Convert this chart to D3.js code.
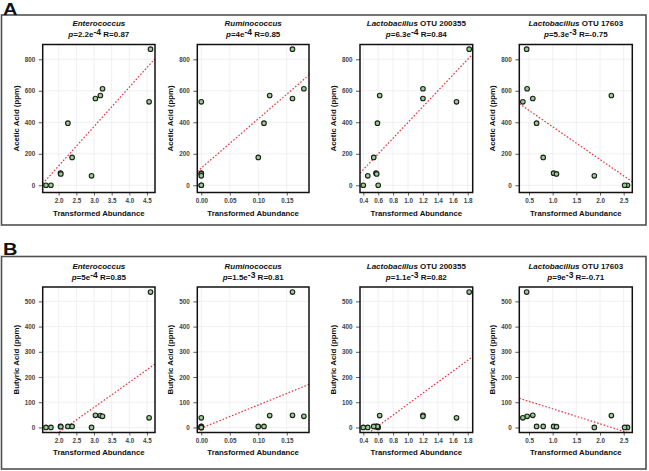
<!DOCTYPE html>
<html><head><meta charset="utf-8">
<script src="https://cdn.jsdelivr.net/npm/d3@7"></script>
<style>
body{margin:0;background:#fff}
svg{display:block;font-family:"Liberation Sans",Arial,Helvetica,sans-serif}
</style>
</head><body>
<svg id="chart" width="649" height="471"></svg>
<script>
// ---- data (12 samples) ----
const enterococcus = [1.64,1.78,2.05,2.06,2.26,2.38,2.93,3.04,3.18,3.24,4.56,4.60];
const ruminococcus = [0,0,0,0,0.11,0.10,0,0.16,0.12,0.18,0,0.16];
const lacto200355  = [0.40,0.60,0.57,0.58,0.59,0.54,0.46,1.20,0.62,1.20,1.65,1.82];
const lacto17603   = [2.58,2.52,1.02,1.08,0.66,0.80,1.88,0.58,2.24,0.46,0.37,0.45];
const acetic  = [0,0,77,72,394,177,60,551,570,613,530,864];
const butyric = [0,0,4,3,4,4,0,48,47,44,38,537];

const genusNames = ["Enterococcus","Ruminococcus","Lactobacillus","Lactobacillus"];
const otuSuffix  = ["",""," OTU 200355"," OTU 17603"];
const acidNames  = ["Acetic Acid (ppm)","Butyric Acid (ppm)"];
const panelLetters = ["A","B"];
const xTicks = [[2,2.5,3,3.5,4,4.5],[0,0.05,0.1,0.15],[0.4,0.6,0.8,1,1.2,1.4,1.6,1.8],[0.5,1,1.5,2,2.5]];
const xFormats = [".1f",".2f",".1f",".1f"];
const xDomains = [[1.547,4.727],[-0.007,0.189],[0.356,1.867],[0.295,2.682]];
const yTicks = [[0,200,400,600,800],[0,100,200,300,400,500]];
const yDomains = [[-46,894],[-20,557]];
const pMantissa = [["2.2","4","6.3","5.3"],["5","1.5","1.1","9"]];
const pExponent = [["-4","-4","-4","-3"],["-4","-3","-3","-3"]];
const rValues   = [["0.87","0.85","0.84","-0.75"],["0.85","0.81","0.82","-0.71"]];

const taxaX = [enterococcus, ruminococcus, lacto200355, lacto17603];
const acidY = [acetic, butyric];

// ---- layout ----
const plotLeft  = [42.7,197.3,360,519.3];
const plotRight = [155,309,472.7,632.3];
const rowLayout = [
  {boxTop:15,  boxBottom:225, title1:26.3,  title2:37.3,  plotTop:44.5, plotBottom:192.5, axisTitle:215.8, letterY:14.6},
  {boxTop:256.5, boxBottom:469, title1:269.3, title2:280.3, plotTop:287, plotBottom:432.5, axisTitle:455.3, letterY:255.5}
];

const svg = d3.select("#chart");
svg.append("rect").attr("width",649).attr("height",471).attr("fill","#fff");

rowLayout.forEach((L, r) => {
  svg.append("rect").attr("x",1.5).attr("y",L.boxTop).attr("width",644.5).attr("height",L.boxBottom-L.boxTop)
    .attr("fill","none").attr("stroke","#505050").attr("stroke-width",1.6);
  svg.append("text").attr("x",3).attr("y",L.letterY).attr("font-size",16).attr("font-weight","bold")
    .attr("fill","#111").attr("transform",`translate(3,${L.letterY}) scale(1.25,1) translate(-3,${-L.letterY})`)
    .text(panelLetters[r]);

  for (let c = 0; c < 4; c++) {
    const x = d3.scaleLinear().domain(xDomains[c]).range([plotLeft[c], plotRight[c]]);
    const y = d3.scaleLinear().domain(yDomains[r]).range([L.plotBottom, L.plotTop]);
    const g = svg.append("g");
    const clipId = `clip${r}${c}`;
    g.append("clipPath").attr("id",clipId).append("rect")
      .attr("x",plotLeft[c]).attr("y",L.plotTop).attr("width",plotRight[c]-plotLeft[c]).attr("height",L.plotBottom-L.plotTop);

    // grid
    g.selectAll(".gx").data(xTicks[c]).join("line")
      .attr("x1",d=>x(d)).attr("x2",d=>x(d)).attr("y1",L.plotTop).attr("y2",L.plotBottom)
      .attr("stroke","#ececec").attr("stroke-width",0.8);
    g.selectAll(".gy").data(yTicks[r]).join("line")
      .attr("y1",d=>y(d)).attr("y2",d=>y(d)).attr("x1",plotLeft[c]).attr("x2",plotRight[c])
      .attr("stroke","#ececec").attr("stroke-width",0.8);

    // axes
    const xa = g.append("g").attr("transform",`translate(0,${L.plotBottom})`)
      .call(d3.axisBottom(x).tickValues(xTicks[c]).tickFormat(d3.format(xFormats[c])).tickSizeInner(3).tickSizeOuter(0).tickPadding(3));
    const ya = g.append("g").attr("transform",`translate(${plotLeft[c]},0)`)
      .call(d3.axisLeft(y).tickValues(yTicks[r]).tickFormat(d3.format("d")).tickSizeInner(4).tickSizeOuter(0).tickPadding(3.5));
    [xa, ya].forEach(a => {
      a.select(".domain").remove();
      a.selectAll("line").attr("stroke","#333").attr("stroke-width",0.8);
      a.selectAll("text").attr("font-size",6.3).attr("font-weight","bold").attr("fill","#444")
        .attr("font-family",'"Liberation Sans",Arial,sans-serif');
    });

    // regression line (least squares fit of the plotted points)
    const xs = taxaX[c], ys = acidY[r];
    const mx = d3.mean(xs), my = d3.mean(ys);
    const sxy = d3.sum(xs, (v,i) => (v-mx)*(ys[i]-my));
    const sxx = d3.sum(xs, v => (v-mx)*(v-mx));
    const slope = sxy/sxx, icpt = my - slope*mx;
    const [d0,d1] = xDomains[c];
    g.append("line").attr("clip-path",`url(#${clipId})`)
      .attr("x1",x(d0)).attr("y1",y(icpt+slope*d0)).attr("x2",x(d1)).attr("y2",y(icpt+slope*d1))
      .attr("stroke","#e8323c").attr("stroke-width",1.2).attr("stroke-dasharray","1.6,1.8");

    // points
    g.selectAll("circle").data(xs.map((v,i)=>[v,ys[i]])).join("circle")
      .attr("cx",d=>x(d[0])).attr("cy",d=>y(d[1])).attr("r",2.3)
      .attr("fill","#93d28c").attr("stroke","#1e1e1e").attr("stroke-width",1.1);

    // frame
    g.append("rect").attr("x",plotLeft[c]).attr("y",L.plotTop)
      .attr("width",plotRight[c]-plotLeft[c]).attr("height",L.plotBottom-L.plotTop)
      .attr("fill","none").attr("stroke","#111").attr("stroke-width",1.5);

    const cx = (plotLeft[c]+plotRight[c])/2;
    // title line 1
    const t1 = g.append("text").attr("x",cx).attr("y",L.title1).attr("text-anchor","middle")
      .attr("font-size",8).attr("font-weight","bold").attr("fill","#111");
    t1.append("tspan").attr("font-style","italic").text(genusNames[c]);
    if (otuSuffix[c]) t1.append("tspan").text(otuSuffix[c]);
    // title line 2
    const t2 = g.append("text").attr("x",cx).attr("y",L.title2).attr("text-anchor","middle")
      .attr("font-size",8).attr("font-weight","bold").attr("fill","#111");
    t2.append("tspan").attr("font-style","italic").text("p");
    t2.append("tspan").text("=" + pMantissa[r][c] + "e");
    t2.append("tspan").attr("font-size",8.5).attr("dy",-2.3).text(pExponent[r][c]);
    t2.append("tspan").attr("dy",2.3).text(" R=" + rValues[r][c]);

    // axis titles
    g.append("text").attr("x",cx).attr("y",L.axisTitle).attr("text-anchor","middle")
      .attr("font-size",7.8).attr("font-weight","bold").attr("fill","#111").text("Transformed Abundance");
    const ymid = (L.plotTop+L.plotBottom)/2;
    g.append("text").attr("transform",`translate(${plotLeft[c]-24},${ymid}) rotate(-90)`)
      .attr("text-anchor","middle").attr("font-size",7.8).attr("font-weight","bold").attr("fill","#111")
      .text(acidNames[r]);
  }
});
</script>
</body></html>
